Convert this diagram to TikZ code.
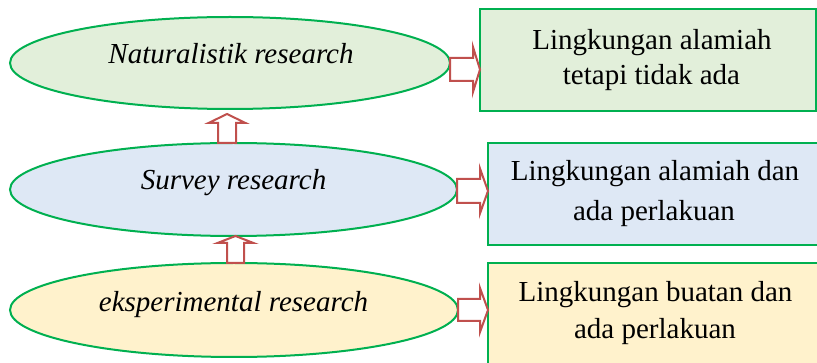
\documentclass[tikz,border=0pt]{standalone}
\usepackage{fontspec}
\setmainfont{Liberation Serif}
\usetikzlibrary{shapes.geometric}
\definecolor{lgreen}{HTML}{E2EFDA}
\definecolor{lblue}{HTML}{DEE8F5}
\definecolor{lyellow}{HTML}{FFF2CC}
\definecolor{edgegreen}{HTML}{00B050}
\definecolor{arrowred}{HTML}{C0504D}
% right-pointing block arrow: tail x, head base x, tip x, centre y, shaft half width, head half width
\newcommand\blockright[6]{%
  \draw[blockarrow] (#1,#4-#5) -- (#2,#4-#5) -- (#2,#4-#6) -- (#3,#4) -- (#2,#4+#6)
    -- (#2,#4+#5) -- (#1,#4+#5) -- cycle;}
% upward block arrow: tail y, head base y, tip y, centre x, shaft half width, head half width
\newcommand\blockup[6]{%
  \draw[blockarrow] (#4-#5,#1) -- (#4-#5,#2) -- (#4-#6,#2) -- (#4,#3) -- (#4+#6,#2)
    -- (#4+#5,#2) -- (#4+#5,#1) -- cycle;}
\begin{document}
\begin{tikzpicture}[x=1pt,y=-1pt,
  oval/.style={ellipse,draw=edgegreen,line width=2pt,inner sep=0pt},
  panel/.style={rectangle,draw=edgegreen,line width=2pt,inner sep=0pt},
  blockarrow/.style={draw=arrowred,fill=white,line width=2pt,line join=miter},
  label/.style={anchor=base,inner sep=0pt,font=\fontsize{29}{35}\selectfont}]
\useasboundingbox (0,0) rectangle (817,363);
\clip (0,0) rectangle (817,363);

% research types
\node[oval,fill=lgreen,minimum width=440pt,minimum height=92pt] (e1) at (230,63) {};
\node[oval,fill=lblue,minimum width=447pt,minimum height=93pt] (e2) at (233.5,189.5) {};
\node[oval,fill=lyellow,minimum width=448pt,minimum height=94pt] (e3) at (234,310) {};
\node[label] (t1) at (231,64) {\itshape Naturalistik research};
\node[label] (t2) at (233.5,190) {\itshape Survey research};
\node[label] (t3) at (233.5,312) {\itshape eksperimental research};

% settings
\node[panel,fill=lgreen,minimum width=336pt,minimum height=102pt] (b1) at (648,60) {};
\node[panel,fill=lblue,minimum width=340pt,minimum height=102pt] (b2) at (658,194) {};
\node[panel,fill=lyellow,minimum width=340pt,minimum height=120pt] (b3) at (658,323) {};
\node[label] (b1a) at (652,50) {Lingkungan alamiah};
\node[label] (b1b) at (651.5,85) {tetapi tidak ada};
\node[label] (b2a) at (655,181) {Lingkungan alamiah dan};
\node[label] (b2b) at (654,221) {ada perlakuan};
\node[label] (b3a) at (655.5,302) {Lingkungan buatan dan};
\node[label] (b3b) at (655,339) {ada perlakuan};

% block arrows
\blockright{450}{473}{480}{69.5}{11.5}{22.5}
\blockright{457}{480}{488}{191}{12}{22.5}
\blockright{458}{480}{488}{310}{11}{22}
\blockup{143}{123}{114}{227}{9}{18.5}
\blockup{263}{243}{236}{235.5}{8.5}{18}
\end{tikzpicture}
\end{document}
